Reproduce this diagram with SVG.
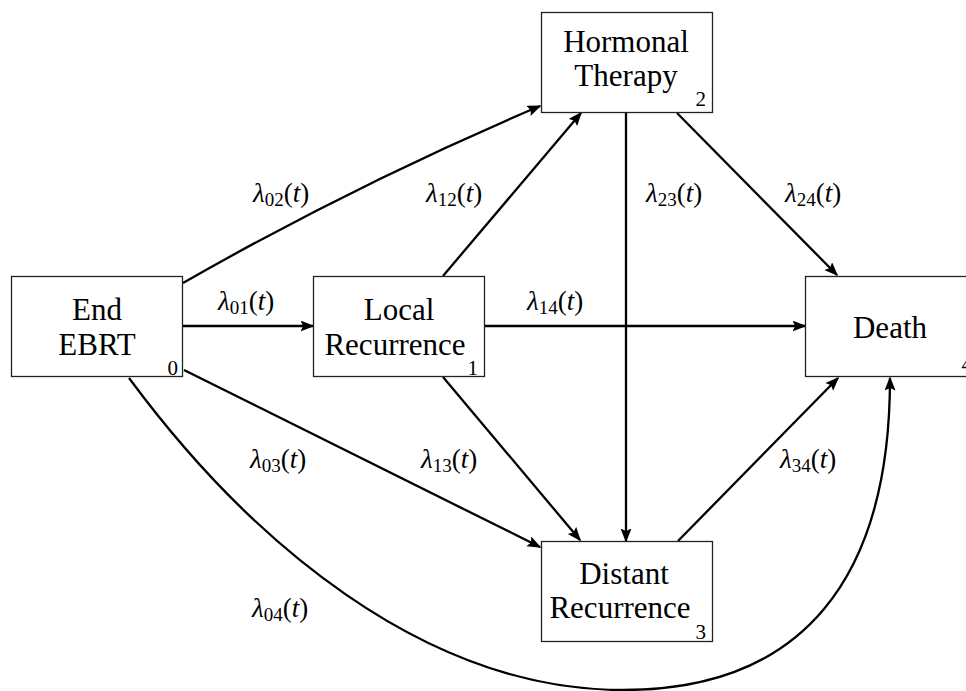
<svg xmlns="http://www.w3.org/2000/svg" width="966" height="691" viewBox="0 0 966 691" font-family="'Liberation Serif', 'DejaVu Serif', serif">
<style>
text{font-family:'Liberation Serif','DejaVu Serif',serif}
.box{fill:#fff;stroke:#222;stroke-width:1.3}
.nt{font-size:31px;fill:#000;text-anchor:middle}
.num{font-size:21px;fill:#000;text-anchor:end}
.e{fill:none;stroke:#000;stroke-width:2.3}
.lab{font-size:27px;fill:#000}
.it{font-style:italic}
.sub{font-size:19px}
</style>
<defs>
<marker id="ah" markerUnits="userSpaceOnUse" markerWidth="16" markerHeight="12" refX="12.5" refY="5.5" orient="auto">
<path d="M0,0 L14,5.5 L0,11 L2.5,5.5 z" fill="#000"/>
</marker>
</defs>
<rect width="966" height="691" fill="#fff"/>
<g id="connectors">
<line class="e" x1="183" y1="326" x2="313" y2="326" marker-end="url(#ah)"/>
<line class="e" x1="485" y1="326" x2="805" y2="326" marker-end="url(#ah)"/>
<path class="e" d="M183,283 Q356,184 540,106" marker-end="url(#ah)"/>
<line class="e" x1="443" y1="276" x2="581" y2="113" marker-end="url(#ah)"/>
<line class="e" x1="626" y1="112" x2="626" y2="541" marker-end="url(#ah)"/>
<line class="e" x1="677" y1="113" x2="837" y2="275" marker-end="url(#ah)"/>
<line class="e" x1="443" y1="377" x2="580" y2="540" marker-end="url(#ah)"/>
<line class="e" x1="184" y1="370" x2="540" y2="547" marker-end="url(#ah)"/>
<line class="e" x1="678" y1="541" x2="838" y2="378" marker-end="url(#ah)"/>
<path class="e" d="M129,378 C248,539 423,690 623,690 C803,690 890,578 890,378" marker-end="url(#ah)"/>
</g>
<g id="labels">
<text class="lab" x="218" y="310"><tspan class="it">λ</tspan><tspan class="sub" dy="4">01</tspan><tspan dy="-4">(</tspan><tspan class="it">t</tspan>)</text>
<text class="lab" x="253" y="202"><tspan class="it">λ</tspan><tspan class="sub" dy="4">02</tspan><tspan dy="-4">(</tspan><tspan class="it">t</tspan>)</text>
<text class="lab" x="426" y="202"><tspan class="it">λ</tspan><tspan class="sub" dy="4">12</tspan><tspan dy="-4">(</tspan><tspan class="it">t</tspan>)</text>
<text class="lab" x="646" y="202"><tspan class="it">λ</tspan><tspan class="sub" dy="4">23</tspan><tspan dy="-4">(</tspan><tspan class="it">t</tspan>)</text>
<text class="lab" x="785" y="202"><tspan class="it">λ</tspan><tspan class="sub" dy="4">24</tspan><tspan dy="-4">(</tspan><tspan class="it">t</tspan>)</text>
<text class="lab" x="527" y="310"><tspan class="it">λ</tspan><tspan class="sub" dy="4">14</tspan><tspan dy="-4">(</tspan><tspan class="it">t</tspan>)</text>
<text class="lab" x="250" y="468"><tspan class="it">λ</tspan><tspan class="sub" dy="4">03</tspan><tspan dy="-4">(</tspan><tspan class="it">t</tspan>)</text>
<text class="lab" x="421" y="468"><tspan class="it">λ</tspan><tspan class="sub" dy="4">13</tspan><tspan dy="-4">(</tspan><tspan class="it">t</tspan>)</text>
<text class="lab" x="780" y="468"><tspan class="it">λ</tspan><tspan class="sub" dy="4">34</tspan><tspan dy="-4">(</tspan><tspan class="it">t</tspan>)</text>
<text class="lab" x="252" y="617"><tspan class="it">λ</tspan><tspan class="sub" dy="4">04</tspan><tspan dy="-4">(</tspan><tspan class="it">t</tspan>)</text>
</g>
<g id="node0">
<rect class="box" x="11.5" y="276.5" width="171" height="100"/>
<text class="nt" x="97" y="320">End</text>
<text class="nt" x="97" y="355">EBRT</text>
<text class="num" x="178" y="375">0</text>
</g>
<g id="node1">
<rect class="box" x="313.5" y="276.5" width="171" height="100"/>
<text class="nt" x="399" y="320">Local</text>
<text class="nt" x="395" y="355">Recurrence</text>
<text class="num" x="478" y="375">1</text>
</g>
<g id="node2">
<rect class="box" x="541.5" y="12.5" width="171" height="100"/>
<text class="nt" x="626" y="52">Hormonal</text>
<text class="nt" x="626" y="86">Therapy</text>
<text class="num" x="706" y="106">2</text>
</g>
<g id="node3">
<rect class="box" x="541.5" y="541.5" width="171" height="100"/>
<text class="nt" x="624" y="584">Distant</text>
<text class="nt" x="620" y="618">Recurrence</text>
<text class="num" x="706" y="639">3</text>
</g>
<g id="node4">
<rect class="box" x="805.5" y="276.5" width="171" height="100"/>
<text class="nt" x="890" y="338">Death</text>
<text class="num" x="972" y="371">4</text>
</g>
</svg>
